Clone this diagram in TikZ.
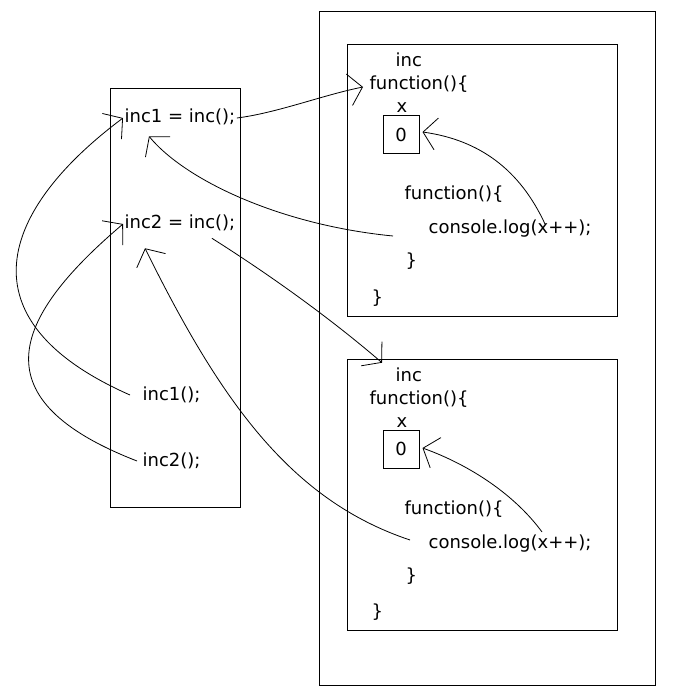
\documentclass[tikz,border=0pt]{standalone}
\usepackage{fontspec}
\setmainfont{DejaVu Sans}
\usetikzlibrary{arrows.meta}

\tikzset{
  code/.style={anchor=west, inner sep=1pt, text height=11pt, text depth=3.5pt, font=\fontsize{13.5}{16}\selectfont},
  valbox/.style={draw, line width=0.75pt, minimum width=27pt, minimum height=28.5pt, inner sep=0pt, font=\fontsize{13.5}{16}\selectfont},
  frame/.style={draw, line width=0.75pt},
  ptr/.style={->, line width=0.6pt},
  >={Straight Barb[length=10pt,width=24pt]}
}

\begin{document}
\begin{tikzpicture}[x=0.75pt,y=-0.75pt]
    \useasboundingbox (0,0) rectangle (680,691);

    % Frames
    \draw[frame] (319,12) rectangle (655,685);
    \draw[frame] (110,89) rectangle (240,507);
    \draw[frame] (347,45) rectangle (617,316);
    \draw[frame] (347,359) rectangle (617,630);

    % Caller code
    \node[code] (l1) at (123,118) {inc1 = inc();};
    \node[code] (l2) at (123,224) {inc2 = inc();};
    \node[code] (l3) at (141,395) {inc1();};
    \node[code] (l4) at (141,461) {inc2();};

    % First closure
    \node[code] (inca) at (394,62) {inc};
    \node[code] (funa) at (368,85) {function()\{};
    \node[code] (xa) at (395,108) {x};
    \node[valbox] (zeroa) at (401,135) {0};
    \node[code] (innera) at (403,195) {function()\{};
    \node[code] (loga) at (427,229) {console.log(x++);};
    \node[code] (closea) at (404,262) {\}};
    \node[code] (enda) at (370,298) {\}};

    % Second closure
    \node[code] (incb) at (394,376) {inc};
    \node[code] (funb) at (368,399) {function()\{};
    \node[code] (xb) at (395,422) {x};
    \node[valbox] (zerob) at (401,449) {0};
    \node[code] (innerb) at (403,509) {function()\{};
    \node[code] (logb) at (427,543) {console.log(x++);};
    \node[code] (closeb) at (404,576) {\}};
    \node[code] (endb) at (370,612) {\}};

    % Tails
    \coordinate (taila) at (393,236);
    \coordinate (xppa) at (545,224);
    \coordinate (tailb) at (410,540);
    \coordinate (xppb) at (542,532);

    % Connections
    \draw[ptr] (l1.east) .. controls +(40,-5) and +(-40,8) .. ([shift={(-5,2)}]funa.west);
    \draw[ptr] (taila) .. controls (280,225) and (185,180) .. ([shift={(26,7)}]l1.south west);
    \draw[ptr] (xppa) .. controls (520,170) and (480,140) .. ([shift={(3,-3)}]zeroa.east);
    \draw[ptr] ([shift={(-25,3)}]l2.south east) .. controls (270,275) and (330,318) .. ([shift={(-12,-2)}]incb.north west);
    \draw[ptr] (tailb) .. controls (290,500) and (220,400) .. ([shift={(22,13)}]l2.south west);
    \draw[ptr] (xppb) .. controls (515,495) and (470,465) .. ([shift={(3,-1)}]zerob.east);
    \draw[ptr] ([shift={(-11,0)}]l3.west) .. controls (-40,320) and (0,210) .. (l1.west);
    \draw[ptr] ([shift={(-4,0)}]l4.west) .. controls (-20,400) and (10,320) .. (l2.west);
\end{tikzpicture}
\end{document}
